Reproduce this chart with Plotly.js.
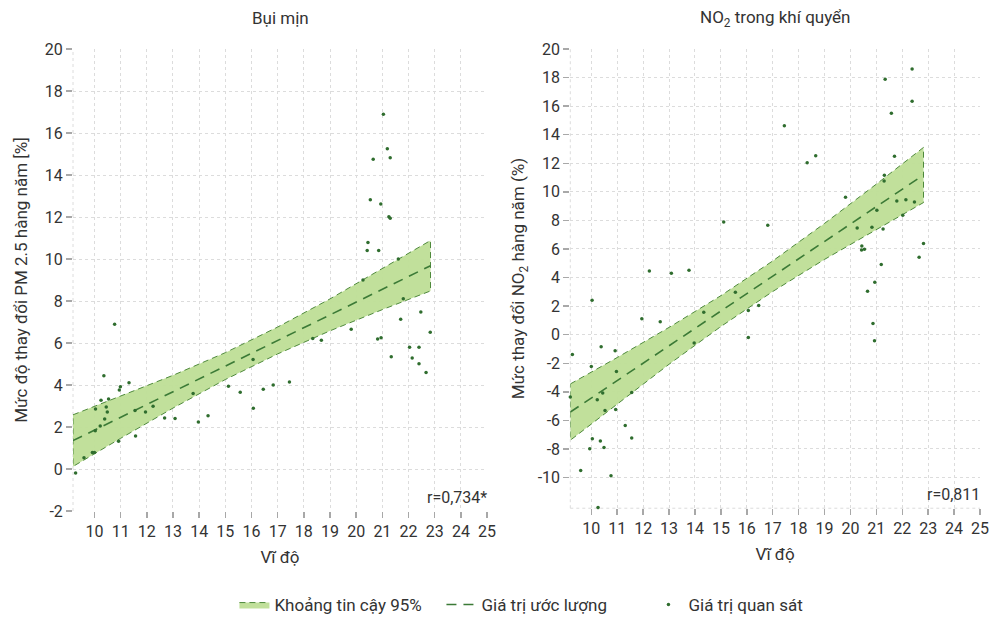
<!DOCTYPE html>
<html>
<head>
<meta charset="utf-8">
<script src="https://cdn.plot.ly/plotly-3.0.1.min.js"></script>
<style>html,body{margin:0;padding:0;background:#fff;}#chart{width:995px;height:618px;}</style>
</head>
<body>
<div id="chart"></div>
<script>
// ---- Data ----
const latTicks = [10,11,12,13,14,15,16,17,18,19,20,21,22,23,24,25];
const pmTicks = [-2,0,2,4,6,8,10,12,14,16,18,20];
const no2Ticks = [-10,-8,-6,-4,-2,0,2,4,6,8,10,12,14,16,18,20];

// Panel 1: fine dust (PM 2.5)
const pmLat = [10.77,10.36,11.32,10.99,10.95,10.25,10.54,10.45,10.04,10.49,11.55,11.95,12.24,10.39,10.22,10.03,10.92,11.57,12.68,13.08,13.77,13.97,14.34,9.92,10.0,9.60,9.17,9.28,15.12,15.57,16.06,16.07,16.45,16.83,17.45,18.34,18.67,19.81,20.26,21.61,21.80,21.70,22.47,22.83,20.82,20.95,21.34,22.04,22.40,22.14,22.40,22.67,21.04,21.19,20.65,21.30,20.54,20.94,21.25,21.30,20.45,20.42,20.86];
const pmVal = [6.89,4.44,4.11,3.92,3.76,3.27,3.33,2.95,2.86,2.71,2.78,2.71,2.99,2.38,2.05,1.82,1.32,1.57,2.43,2.40,3.59,2.24,2.54,0.79,0.79,0.54,0.29,-0.19,3.94,3.65,5.22,2.89,3.80,4.00,4.14,6.22,6.13,6.65,9.00,10.00,8.11,7.13,7.48,6.51,6.19,6.25,5.35,5.80,5.80,5.29,5.01,4.59,16.89,15.25,14.75,14.82,12.82,12.62,12.01,11.94,10.78,10.41,10.40];
const pmFitLat = [9.18, 22.84];
const pmFitVal = [1.35, 9.68];
const pmBandLat = [9.18, 11, 13, 15, 17, 19, 21, 22.84];
const pmBandUpper = [2.58, 3.46, 4.46, 5.54, 6.76, 8.10, 9.53, 10.88];
const pmBandLower = [0.12, 1.46, 2.90, 4.26, 5.48, 6.58, 7.59, 8.48];

// Panel 2: NO2
const no2Lat = [12.24,13.09,13.77,10.03,11.95,12.66,14.34,13.97,9.27,10.0,10.38,10.92,10.97,9.19,10.23,10.44,10.53,10.94,11.56,11.31,11.56,10.04,10.35,9.94,10.49,9.59,10.76,10.26,17.45,18.33,18.66,15.11,16.81,15.56,16.06,16.46,16.06,22.38,21.34,22.38,21.58,21.70,21.31,21.30,19.81,21.79,22.14,22.47,21.02,22.02,20.26,20.83,21.26,20.44,20.43,20.54,22.82,22.65,21.19,20.94,20.66,20.87,20.93];
const no2Val = [4.46,4.30,4.51,2.41,1.11,0.90,1.57,-0.59,-1.39,-2.23,-0.85,-1.13,-2.58,-4.37,-4.56,-4.09,-5.31,-5.24,-4.05,-6.36,-7.24,-7.29,-7.45,-7.99,-7.90,-9.51,-9.88,-12.1,14.63,12.04,12.53,7.89,7.66,2.97,1.69,2.04,-0.20,18.60,17.88,16.34,15.50,12.49,11.16,10.76,9.62,9.36,9.45,9.29,8.71,8.36,7.47,7.52,7.40,6.21,5.93,5.98,6.38,5.42,4.91,3.67,3.04,0.78,-0.43];
const no2FitLat = [9.19, 22.82];
const no2FitVal = [-5.42, 11.18];
const no2BandLat = [9.19, 11, 13, 15, 17, 19, 21, 22.82];
const no2BandUpper = [-3.45, -1.60, 0.51, 2.73, 5.16, 7.79, 10.54, 13.11];
const no2BandLower = [-7.39, -4.84, -2.07, 0.57, 3.02, 5.27, 7.38, 9.25];

const rLabels = ['r=0,734*', 'r=0,811'];
const panelTitles = ['Bụi mịn', 'NO<sub>2</sub> trong khí quyển'];
const yTitles = ['Mức độ thay đổi PM 2.5 hàng năm [%]', 'Mức thay đổi NO<sub>2</sub> hàng năm (%)'];
const xTitle = 'Vĩ độ';
const legendNames = ['Khoảng tin cậy 95%', 'Giá trị ước lượng', 'Giá trị quan sát'];

// ---- Styles ----
const FONT = 'Roboto, "Noto Sans", sans-serif';
const TXT = '#333333';
const FILL = 'rgba(190,222,150,0.95)';
const EDGE = '#4f8a3c';
const DARK = '#2f6d2e';

function polygon(xs, up, lo) {
  return {
    x: xs.concat(xs.slice().reverse()).concat([xs[0]]),
    y: up.concat(lo.slice().reverse()).concat([up[0]])
  };
}

const traces = [];
const panels = [
  {xa:'x', ya:'y', bx:pmBandLat, bu:pmBandUpper, bl:pmBandLower, fx:pmFitLat, fy:pmFitVal, px:pmLat, py:pmVal, leg:true},
  {xa:'x2', ya:'y2', bx:no2BandLat, bu:no2BandUpper, bl:no2BandLower, fx:no2FitLat, fy:no2FitVal, px:no2Lat, py:no2Val, leg:false}
];
panels.forEach(p => {
  const poly = polygon(p.bx, p.bu, p.bl);
  traces.push({
    type:'scatter', mode:'lines', x:poly.x, y:poly.y, xaxis:p.xa, yaxis:p.ya,
    fill:'toself', fillcolor:FILL, line:{color:EDGE, width:1, dash:'6px,4px'},
    name:legendNames[0], showlegend:p.leg, legendgroup:'band', hoverinfo:'skip'
  });
  traces.push({
    type:'scatter', mode:'lines', x:p.fx, y:p.fy, xaxis:p.xa, yaxis:p.ya,
    line:{color:'#3b7a36', width:1.6, dash:'10px,7px'},
    name:legendNames[1], showlegend:p.leg, legendgroup:'fit'
  });
  traces.push({
    type:'scatter', mode:'markers', x:p.px, y:p.py, xaxis:p.xa, yaxis:p.ya,
    marker:{color:DARK, size:3.5}, cliponaxis:false,
    name:legendNames[2], showlegend:p.leg, legendgroup:'obs'
  });
});

const axisCommon = {
  showgrid:true, gridcolor:'#dcdcdc', griddash:'dot', gridwidth:1,
  zeroline:false, showline:false, automargin:false,
  ticks:'outside', ticklen:6, tickcolor:'#a8a8a8', tickwidth:1.5,
  tickfont:{family:FONT, size:16, color:TXT}
};
const labels = arr => arr.map(v => String(v));

const layout = {
  width:995, height:618,
  margin:{l:73, r:15, t:49, b:107},
  paper_bgcolor:'#fff', plot_bgcolor:'#fff',
  font:{family:FONT, color:TXT},
  showlegend:true,
  legend:{orientation:'h', xref:'paper', yref:'container', x:0.178, xanchor:'left', y:0.021, yanchor:'middle',
          font:{family:FONT, size:17, color:TXT}, traceorder:'normal', entrywidth:162},
  xaxis:Object.assign({}, axisCommon, {domain:[0,0.4565], range:[9.18,25], tickvals:latTicks, ticktext:labels(latTicks), anchor:'y',
          title:{text:xTitle, standoff:10, font:{family:FONT, size:17, color:TXT}}}),
  yaxis:Object.assign({}, axisCommon, {domain:[0,1], range:[-2,20], tickvals:pmTicks, ticktext:labels(pmTicks), anchor:'x',
          title:{text:yTitles[0], standoff:12, font:{family:FONT, size:17, color:TXT}}}),
  xaxis2:Object.assign({}, axisCommon, {domain:[0.5483,1], range:[9.19,25], tickvals:latTicks, ticktext:labels(latTicks), anchor:'y2',
          title:{text:xTitle, standoff:10, font:{family:FONT, size:17, color:TXT}}}),
  yaxis2:Object.assign({}, axisCommon, {domain:[0.006,1], range:[-12.15,20], tickvals:no2Ticks, ticktext:labels(no2Ticks), anchor:'x2',
          title:{text:yTitles[1], standoff:8, font:{family:FONT, size:17, color:TXT}}}),
  shapes:[
    {type:'line', xref:'x domain', yref:'y domain', x0:0, x1:0, y0:0, y1:1, line:{color:'#dcdcdc', width:1, dash:'dot'}, layer:'below'},
    {type:'line', xref:'x2 domain', yref:'y2 domain', x0:0, x1:0, y0:0, y1:1, line:{color:'#dcdcdc', width:1, dash:'dot'}, layer:'below'},
    {type:'line', xref:'x2 domain', yref:'y2 domain', x0:0, x1:1, y0:0, y1:0, line:{color:'#dcdcdc', width:1, dash:'dot'}, layer:'below'}
  ],
  annotations:[
    {text:panelTitles[0], xref:'x domain', yref:'paper', x:0.5, y:1.067, xanchor:'center', yanchor:'middle', showarrow:false, font:{family:FONT, size:17, color:TXT}},
    {text:panelTitles[1], xref:'x2 domain', yref:'paper', x:0.5, y:1.067, xanchor:'center', yanchor:'middle', showarrow:false, font:{family:FONT, size:17, color:TXT}},
    {text:rLabels[0], xref:'x domain', yref:'y domain', x:1, y:0, xanchor:'right', yanchor:'bottom', yshift:2, xshift:2, showarrow:false, font:{family:FONT, size:16, color:TXT}},
    {text:rLabels[1], xref:'x2 domain', yref:'y2 domain', x:1, y:0, xanchor:'right', yanchor:'bottom', yshift:2, xshift:2, showarrow:false, font:{family:FONT, size:16, color:TXT}}
  ]
};

Plotly.newPlot('chart', traces, layout, {displayModeBar:false, staticPlot:true});
</script>
</body>
</html>
